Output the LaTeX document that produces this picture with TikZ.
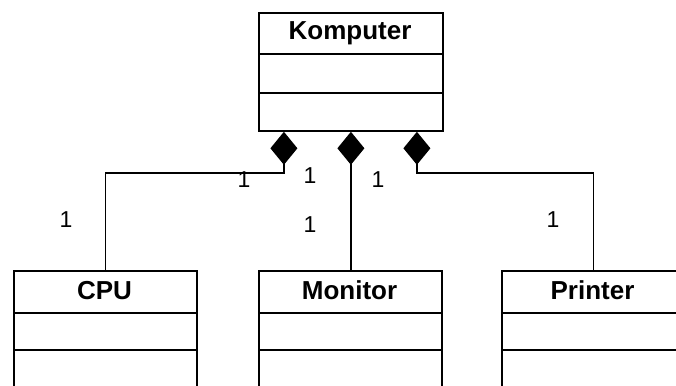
\documentclass[tikz,border=0pt]{standalone}
\usepackage{fontspec}
\setmainfont{Liberation Sans}
\usetikzlibrary{arrows.meta}
\begin{document}
\begin{tikzpicture}[x=1pt,y=-1pt,
  classbox/.style={draw, line width=1.8pt, minimum width=183pt, inner sep=0pt, anchor=north west},
  ctitle/.style={font=\fontsize{26}{30}\selectfont\bfseries, anchor=base, inner sep=0pt},
  mult/.style={font=\fontsize{23}{27}\selectfont, anchor=base, inner sep=0pt},
  sepline/.style={line width=1.8pt},
  comp/.style={line width=1.8pt, {Diamond[length=33pt,width=27pt]}-}
]
\fill[white] (0,0) rectangle (676,385);
\clip (0,0) rectangle (676,385);
% classes
\node[classbox, minimum width=184pt, minimum height=118pt] (komp) at (258,12) {};
\node[classbox, minimum height=130pt] (cpu) at (13,270) {};
\node[classbox, minimum height=130pt] (mon) at (258,270) {};
\node[classbox, minimum height=130pt] (prn) at (501,270) {};
% compartments
\draw[sepline] ([yshift=-42pt]komp.north west) -- ([yshift=-42pt]komp.north east);
\draw[sepline] ([yshift=-81pt]komp.north west) -- ([yshift=-81pt]komp.north east);
\foreach \c in {cpu,mon,prn}{
  \draw[sepline] ([yshift=-43pt]\c.north west) -- ([yshift=-43pt]\c.north east);
  \draw[sepline] ([yshift=-80pt]\c.north west) -- ([yshift=-80pt]\c.north east);
}
% titles
\node[ctitle] (tk) at (350,40) {Komputer};
\node[ctitle] (tc) at (104.5,299) {CPU};
\node[ctitle] (tm) at (349.5,299) {Monitor};
\node[ctitle] (tp) at (592.5,299) {Printer};
% connectors
\draw[comp] ([xshift=-67pt]komp.south) -- ++(0,41) -| (cpu.north);
\draw[comp] (komp.south) -- (komp.south |- mon.north);
\draw[comp] ([xshift=66pt]komp.south) -- ++(0,41) -| (prn.north);
% multiplicities
\node[mult] (m1) at (244,187) {1};
\node[mult] (m2) at (66,227) {1};
\node[mult] (m3) at (310,183) {1};
\node[mult] (m4) at (310,232) {1};
\node[mult] (m5) at (378,187) {1};
\node[mult] (m6) at (553,227) {1};
\end{tikzpicture}
\end{document}
